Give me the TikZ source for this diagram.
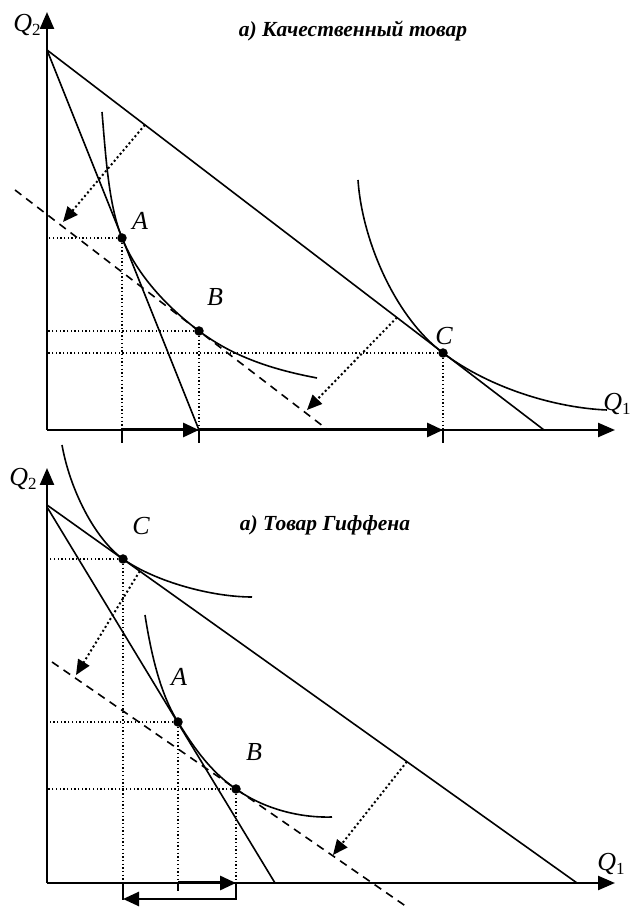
\documentclass[tikz,border=0pt]{standalone}
\usepackage{fontspec}
\setmainfont{Liberation Serif}
\usepackage{tikz}
\usetikzlibrary{arrows.meta, calc}
\tikzset{
  axis/.style={line width=2.4pt, -{Triangle[length=17pt,width=14pt]}},
  budget/.style={line width=1.6pt},
  icurve/.style={line width=1.6pt},
  guide/.style={line width=1.3pt, dash pattern=on 1.3pt off 2.4pt},
  comp/.style={line width=1.6pt, dash pattern=on 8pt off 6pt},
  shiftarr/.style={line width=2pt, dash pattern=on 2pt off 2.6pt, -{Triangle[length=15pt,width=13pt]}},
  effect/.style={line width=3pt, -{Triangle[length=16pt,width=14pt]}},
  axtick/.style={line width=1.6pt},
  pt/.style={circle, fill, inner sep=0pt, minimum size=9.5pt},
  lab/.style={font=\fontsize{26}{28}\selectfont\itshape},
  ttl/.style={font=\fontsize{21.5}{24}\selectfont\bfseries\itshape},
}
\newcommand{\qlab}[1]{\textit{Q}\raisebox{-0.35ex}{\fontsize{17}{17}\selectfont\upshape #1}}

\begin{document}
\begin{tikzpicture}[x=1pt, y=1pt]
\useasboundingbox (0,0) rectangle (630,910);
% ===== top panel: normal good =====
\begin{scope}[shift={(47,480)}]
\coordinate (O) at (0,0);
\coordinate (Ytop) at (0,418);
\coordinate (Xtop) at (568,0);
\coordinate (M) at (0,380);
\coordinate (N1) at (497,0);
\coordinate (N2) at (152,0);
\coordinate (D1) at (-32,240);
\coordinate (D2) at (281,0);
% axes
\draw[axis] (O) -- (Ytop);
\draw[axis] (O) -- (Xtop);
% budget lines and compensated line
\draw[budget] (M) -- (N1);
\draw[budget] (M) -- (N2);
\draw[comp] (D1) -- (D2);
% indifference curves
\draw[icurve] (55,318) .. controls (59,270) and (62,224) .. (75,192)
  .. controls (90,155) and (120,123) .. (152,99)
  .. controls (188,72) and (228,60) .. (270,52);
\draw[icurve] (311,250) .. controls (315,190) and (348,113) .. (396,77)
  .. controls (444,41) and (510,22) .. (560,20);
% equilibria
\node[pt] (A) at (75,192) {};
\node[pt] (B) at (152,99) {};
\node[pt] (C) at (396,77) {};
\draw[guide] (A) -- (A -| O);
\draw[guide] (B) -- (B -| O);
\draw[guide] (C) -- (C -| O);
\draw[guide] (A) -- (A |- O);
\draw[guide] (B) -- (B |- O);
\draw[guide] (C) -- (C |- O);
\foreach \p in {A,B,C}
  \draw[axtick] (\p |- O) -- ++(0,-13);
% substitution and income effects
\draw[effect] (A |- O) -- (B |- O);
\draw[effect] (B |- O) -- (C |- O);
% parallel shifts
\coordinate (s1) at ($(M)!0.197!(N1)$);
\coordinate (e1) at (16,208);
\coordinate (s2) at ($(M)!0.704!(N1)$);
\coordinate (e2) at (260,20);
\draw[shiftarr] (s1) -- (e1);
\draw[shiftarr] (s2) -- (e2);
% labels
\node[lab] (labA) at (93,209) {A};
\node[lab] (labB) at (168,133) {B};
\node[lab] (labC) at (397,94) {C};
\node[lab] (q2) at (-20,405) {\qlab{2}};
\node[lab] (q1) at (570,26) {\qlab{1}};
\node[ttl] (ttl1) at (306,399) {а) Качественный товар};
\end{scope}
% ===== bottom panel: Giffen good =====
\begin{scope}[shift={(47,27)}]
\coordinate (O) at (0,0);
\coordinate (Ytop) at (0,415);
\coordinate (Xtop) at (568,0);
\coordinate (M) at (0,378);
\coordinate (N1) at (530,0);
\coordinate (M2) at (0,376);
\coordinate (N2) at (228,0);
\coordinate (D1) at (5,221);
\coordinate (D2) at (360,-24);
% axes
\draw[axis] (O) -- (Ytop);
\draw[axis] (O) -- (Xtop);
% budget lines and compensated line
\draw[budget] (M) -- (N1);
\draw[budget] (M2) -- (N2);
\draw[comp] (D1) -- (D2);
% indifference curves
\draw[icurve] (15,438) .. controls (23,393) and (48,344) .. (76,324)
  .. controls (109,301) and (165,286) .. (205,286);
\draw[icurve] (98,268) .. controls (105,223) and (115,186) .. (131,161)
  .. controls (147,135) and (164,111) .. (189,94)
  .. controls (217,74) and (253,65) .. (285,66);
% equilibria
\node[pt] (C) at (76,324) {};
\node[pt] (A) at (131,161) {};
\node[pt] (B) at (189,94) {};
\draw[guide] (C) -- (C -| O);
\draw[guide] (A) -- (A -| O);
\draw[guide] (B) -- (B -| O);
\draw[guide] (C) -- (C |- O);
\draw[guide] (A) -- (A |- O);
\draw[guide] (B) -- (B |- O);
\draw[axtick] (A |- O) -- ++(0,-8);
% substitution and total effects
\coordinate (brL) at (76,-16);
\coordinate (brR) at (189,-16);
\draw[axtick, line width=2pt] (C |- O) -- ($(brL)+(0,-1)$);
\draw[axtick, line width=2pt] (B |- O) -- ($(brR)+(0,-1)$);
\draw[effect, line width=2.6pt] (brR) -- (brL);
\draw[effect] (A |- O) -- (B |- O);
% parallel shifts
\coordinate (s1) at ($(M)!0.175!(N1)$);
\coordinate (e1) at (29,208);
\coordinate (s2) at ($(M)!0.679!(N1)$);
\coordinate (e2) at (286,28);
\draw[shiftarr] (s1) -- (e1);
\draw[shiftarr] (s2) -- (e2);
% labels
\node[lab] (labC) at (94,357) {C};
\node[lab] (labA) at (132,206) {A};
\node[lab] (labB) at (207,131) {B};
\node[lab] (q2) at (-24,404) {\qlab{2}};
\node[lab] (q1) at (564,19) {\qlab{1}};
\node[ttl] (ttl2) at (278,358) {а) Товар Гиффена};
\end{scope}
\end{tikzpicture}
\end{document}
